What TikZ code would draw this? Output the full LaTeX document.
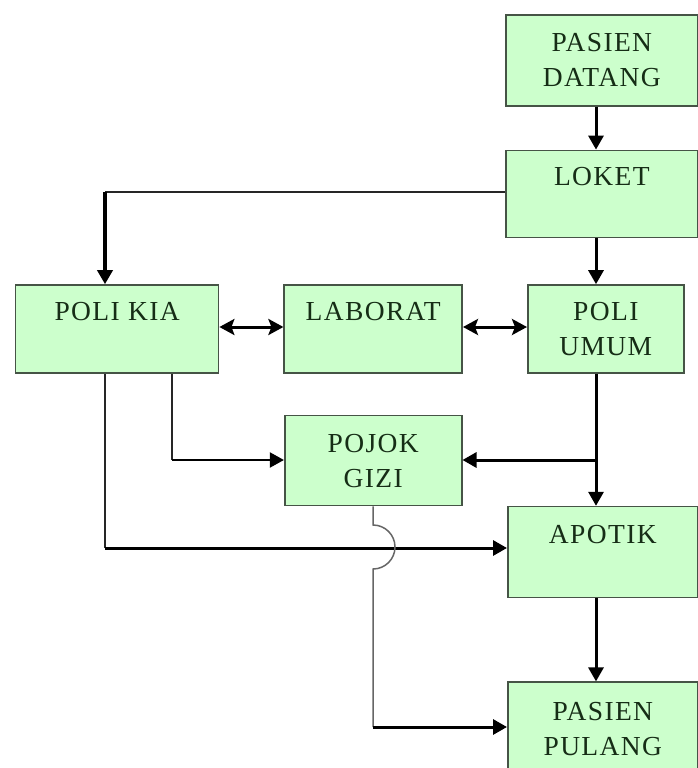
\documentclass[tikz,border=0pt]{standalone}
\usepackage{fontspec}
\setmainfont{Liberation Serif}[LetterSpace=5]
\usepackage{xcolor}
\usepackage{tikz}
\usetikzlibrary{arrows.meta, positioning, calc}
\definecolor{PKGreen}{RGB}{204,255,204}
\definecolor{PKBorder}{RGB}{70,84,70}
\definecolor{PKText}{RGB}{22,45,22}
\tikzset{
  unit/.style={rectangle, draw=PKBorder, fill=PKGreen, line width=1.6pt,
    align=center, text=PKText, font=\fontsize{27.5}{35}\selectfont},
  arrow/.style={-{Triangle[length=14pt,width=15pt]}, line width=3pt, draw=black},
  twoway/.style={{Stealth[length=15pt,width=16pt,inset=3pt]}-{Stealth[length=15pt,width=16pt,inset=3pt]},
    line width=3pt, draw=black},
  wire/.style={line width=1.5pt, draw=black!85}
}

\begin{document}
\begin{tikzpicture}[x=1pt, y=-1pt, node distance=46pt]
  \useasboundingbox (0,0) rectangle (698,768);
  \node[unit, anchor=north west, minimum width=192pt, minimum height=91pt] (datang) at (505,14) {PASIEN\\DATANG};
  \node[unit, below=43pt of datang, minimum width=192pt, minimum height=87pt] (loket) {LOKET\\~};
  \node[unit, below=46pt of loket, xshift=4pt, minimum width=156pt, minimum height=88pt] (umum) {POLI\\UMUM};
  \node[unit, left=64pt of umum, minimum width=178pt, minimum height=88pt] (lab) {LABORAT\\~};
  \node[unit, left=64pt of lab, minimum width=203pt, minimum height=88pt] (kia) {POLI KIA\\~};
  \node[unit, below=41pt of lab, minimum width=177pt, minimum height=90pt] (gizi) {POJOK\\GIZI};
  \node[unit, below=132pt of umum, xshift=-3pt, minimum width=190pt, minimum height=91pt] (apotik) {APOTIK\\~};
  \node[unit, below=83pt of apotik, minimum width=190pt, minimum height=93pt] (pulang) {PASIEN\\PULANG};

  \coordinate (spine) at (596,0);
  \coordinate (row) at (0,327);
  \coordinate (kturn) at (105,192);
  \coordinate (kgturn) at (172,460);
  \coordinate (katurn) at (105,548);
  \coordinate (gjoin) at (596,460);
  \coordinate (hop) at (373,525);
  \coordinate (gturn) at (373,727);

  \draw[arrow] (datang.south -| spine) -- (loket.north -| spine);
  \draw[arrow] (loket.south -| spine) -- (umum.north -| spine);
  \draw[arrow] (umum.south -| spine) -- (apotik.north -| spine);
  \draw[arrow] (apotik.south -| spine) -- (pulang.north -| spine);
  \draw[wire] (loket.west |- kturn) -- (kturn);
  \draw[arrow, line width=3.5pt] (kturn) -- (kturn |- kia.north);
  \draw[twoway] (kia.east |- row) -- (lab.west |- row);
  \draw[twoway] (lab.east |- row) -- (umum.west |- row);
  \draw[arrow] (gjoin) -- (gizi.east |- gjoin);
  \draw[wire] (kia.south -| kgturn) -- (kgturn);
  \draw[arrow, line width=2pt] (kgturn) -- (gizi.west |- kgturn);
  \draw[wire] (kia.south -| katurn) -- (katurn);
  \draw[arrow] (katurn) -- (apotik.west |- katurn);
  \draw[wire, draw=black!60] (gizi.south -| hop) -- (hop)
    arc[start angle=90, end angle=-90, radius=22pt] -- (gturn);
  \draw[arrow] (gturn) -- (pulang.west |- gturn);
\end{tikzpicture}
\end{document}
